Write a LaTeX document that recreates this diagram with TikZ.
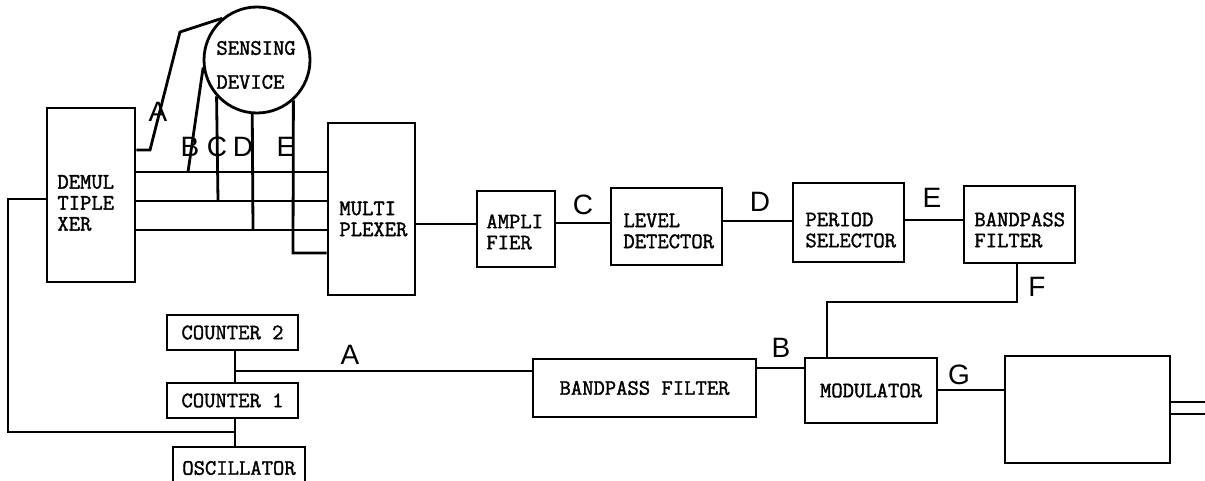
\documentclass[tikz,border=0pt]{standalone}
\usepackage{fontspec}
\setmainfont{Liberation Sans}
\newfontfamily\tw[FakeBold=1.6]{Latin Modern Mono}
\begin{document}
\begin{tikzpicture}[x=1pt,y=-1pt,
  every path/.style={line width=2.8pt, line join=miter},
  box/.style={draw, line width=2.8pt, inner sep=0pt, rectangle},
  txt/.style={font=\tw\fontsize{22}{21}\selectfont, inner sep=0pt},
  lab/.style={font=\fontsize{28}{28}\selectfont, inner sep=0pt}]
\useasboundingbox (0,0) rectangle (1205,481);
% boxes
\node[box, minimum width=88pt, minimum height=174pt] (demux) at (91,195) {};
\node[box, minimum width=87pt, minimum height=172pt] (mux) at (371.5,209) {};
\node[box, minimum width=78pt, minimum height=76pt] (amp) at (516,229) {};
\node[box, minimum width=111pt, minimum height=77pt] (lev) at (666.5,226.5) {};
\node[box, minimum width=111pt, minimum height=79pt] (per) at (848.5,222.5) {};
\node[box, minimum width=111pt, minimum height=77pt] (bpf) at (1019.5,224.5) {};
\node[box, txt, minimum width=131pt, minimum height=35pt] (cnt2) at (232.5,332.5) {COUNTER 2};
\node[box, txt, minimum width=131pt, minimum height=35pt] (cnt1) at (232.5,400.5) {COUNTER 1};
\node[box, txt, minimum width=132pt, minimum height=42pt] (osc) at (239,468) {OSCILLATOR};
\node[box, txt, minimum width=223pt, minimum height=58pt] (bpf2) at (644.5,388) {BANDPASS FILTER};
\node[box, txt, minimum width=132pt, minimum height=65pt] (mod) at (871,390.5) {MODULATOR};
\node[box, minimum width=165pt, minimum height=107pt] (rbox) at (1087.5,409.5) {};
\node[draw, circle, line width=2.8pt, minimum size=106pt, inner sep=0pt] (sens) at (257,60) {};
% box texts
\node[txt, anchor=west, align=left] (demuxT) at (56,203) {DEMUL\\TIPLE\\XER};
\node[txt, anchor=west, align=left] (muxT) at (338,219) {MULTI\\PLEXER};
\node[txt, anchor=west, align=left] (ampT) at (485,232) {AMPLI\\FIER};
\node[txt, anchor=west, align=left] (levT) at (622,231) {LEVEL\\DETECTOR};
\node[txt, anchor=west, align=left] (perT) at (804,230) {PERIOD\\SELECTOR};
\node[txt, anchor=west, align=left] (bpfT) at (973,230) {BANDPASS\\FILTER};
\node[txt, anchor=west, align=left, font=\tw\fontsize{22}{34}\selectfont] (sensT) at (215,65) {SENSING\\DEVICE};
% bus between demultiplexer and multiplexer
\draw (demux.east |- 0,172) -- (mux.west |- 0,172);
\draw (demux.east |- 0,201) -- (mux.west |- 0,201);
\draw (demux.east |- 0,230) -- (mux.west |- 0,230);
\draw (demux.east |- 0,150) -- (150,150) -- (180,32) -- (sens.130);
\draw (188,172) -- (sens.188.5);
\draw (218,201) -- (sens.222.6);
\draw (253,230) -- (sens.265.7);
\draw (sens.312.8) -- (293,253) -- (mux.west |- 0,253);
% chain
\draw (mux.east |- 0,224) -- (amp.west |- 0,224);
\draw (amp.east |- 0,223) -- (lev.west |- 0,223);
\draw (lev.east |- 0,221) -- (per.west |- 0,221);
\draw (per.east |- 0,220) -- (bpf.west |- 0,220);
\draw (bpf.south -| 1017,0) -- (1017,302) -- (827,302) -- (mod.north -| 827,0);
\draw (bpf2.east |- 0,368) -- (mod.west |- 0,368);
\draw (mod.east |- 0,390) -- (rbox.west |- 0,390);
\draw (rbox.east |- 0,402) -- (1205,402);
\draw (rbox.east |- 0,414) -- (1205,414);
% counters and loop
\draw (cnt2.south -| 235,0) -- (cnt1.north -| 235,0);
\draw (235,371) -- (bpf2.west |- 0,371);
\draw (cnt1.south -| 235,0) -- (osc.north -| 235,0);
\draw (demux.west |- 0,199) -- (8,199) -- (8,432) -- (235,432);
% labels
\node[lab] (lA1) at (158,112) {A};
\node[lab] (lB1) at (190,147) {B};
\node[lab] (lC1) at (217,147) {C};
\node[lab] (lD1) at (243,147) {D};
\node[lab] (lE1) at (286,147) {E};
\node[lab] (lC) at (583,205) {C};
\node[lab] (lD) at (760,202) {D};
\node[lab] (lE) at (932,198) {E};
\node[lab] (lF) at (1037,287) {F};
\node[lab] (lA) at (350,355) {A};
\node[lab] (lB) at (781,348) {B};
\node[lab] (lG) at (959,375) {G};
\end{tikzpicture}
\end{document}
